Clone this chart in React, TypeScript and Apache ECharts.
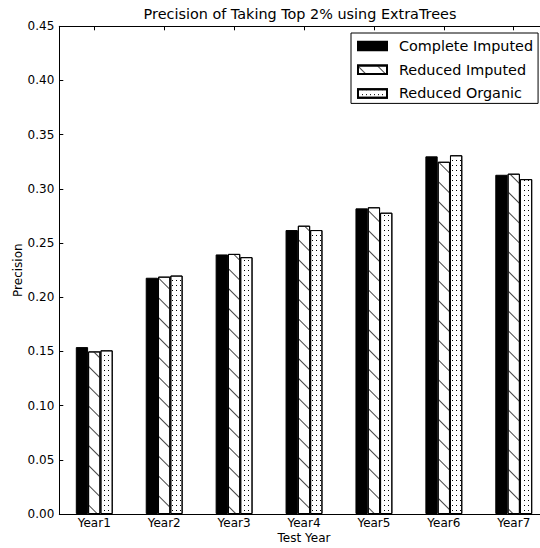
import React, { useEffect, useRef } from "react";
import * as echarts from "echarts";

const categories = ["Year1", "Year2", "Year3", "Year4", "Year5", "Year6", "Year7"];
const completeImputed = [0.154, 0.218, 0.2395, 0.262, 0.282, 0.330, 0.313];
const reducedImputed = [0.150, 0.219, 0.240, 0.266, 0.283, 0.325, 0.314];
const reducedOrganic = [0.151, 0.220, 0.237, 0.262, 0.278, 0.331, 0.309];
const seriesNames = ["Complete Imputed", "Reduced Imputed", "Reduced Organic"];

const FONT = "DejaVu Sans";

export default function App() {
  const ref = useRef<HTMLDivElement>(null);
  useEffect(() => {
    document.body.style.margin = "0";
    const chart = echarts.init(ref.current as HTMLDivElement, null, { renderer: "svg" });
    const barBase = {
      type: "bar" as const,
      barWidth: 12.3,
      barGap: "0%",
      xAxisIndex: 0,
      yAxisIndex: 0,
    };
    chart.setOption({
      animation: false,
      backgroundColor: "#fff",
      textStyle: { fontFamily: FONT, color: "#000" },
      title: {
        text: "Precision of Taking Top 2% using ExtraTrees",
        left: 300,
        textAlign: "center",
        top: 7,
        padding: 0,
        textStyle: { fontFamily: FONT, fontSize: 14.4, fontWeight: "normal", color: "#000" },
      },
      legend: {
        orient: "vertical",
        left: 351,
        top: 33,
        padding: [5, 5, 2, 6],
        itemGap: 7.7,
        itemWidth: 29,
        itemHeight: 8.5,
        icon: "rect",
        borderColor: "#000",
        borderWidth: 1,
        borderRadius: 0,
        backgroundColor: "#fff",
        data: seriesNames,
        textStyle: {
          fontFamily: FONT,
          fontSize: 14.4,
          lineHeight: 16,
          color: "#000",
          padding: [0, 0, 0, 7],
        },
      },
      grid: { left: 59.3, top: 26.3, right: -8.7, bottom: 34, outerBoundsMode: "none", containLabel: false },
      xAxis: [
        {
          type: "category",
          data: categories,
          position: "bottom",
          name: "Test Year",
          nameLocation: "middle",
          nameGap: 18,
          nameMoveOverlap: false,
          nameTextStyle: { fontFamily: FONT, fontSize: 12, color: "#000", verticalAlign: "top" },
          axisLine: { show: true, lineStyle: { color: "#000", width: 1 } },
          axisTick: { show: true, inside: true, length: 4, alignWithLabel: true, lineStyle: { color: "#000" } },
          axisLabel: { fontFamily: FONT, fontSize: 12, color: "#000", margin: 3 },
          splitLine: { show: false },
        },
        {
          type: "category",
          data: categories,
          position: "top",
          axisLine: { show: true, lineStyle: { color: "#000", width: 1 } },
          axisTick: { show: true, inside: true, length: 4, alignWithLabel: true, lineStyle: { color: "#000" } },
          axisLabel: { show: false },
          splitLine: { show: false },
        },
      ],
      yAxis: [
        {
          type: "value",
          min: 0,
          max: 0.45,
          interval: 0.05,
          name: "Precision",
          nameLocation: "middle",
          nameGap: 35,
          nameMoveOverlap: false,
          nameTextStyle: { fontFamily: FONT, fontSize: 12, color: "#000" },
          axisLine: { show: true, lineStyle: { color: "#000", width: 1 } },
          axisTick: { show: true, inside: true, length: 4, lineStyle: { color: "#000" } },
          axisLabel: {
            fontFamily: FONT,
            fontSize: 12,
            color: "#000",
            margin: 5,
            formatter: (v: number) => v.toFixed(2),
          },
          splitLine: { show: false },
        },
      ],
      series: [
        {
          ...barBase,
          name: seriesNames[0],
          data: completeImputed,
          itemStyle: { color: "#000", borderColor: "#000", borderWidth: 1 },
        },
        {
          ...barBase,
          name: seriesNames[1],
          data: reducedImputed,
          itemStyle: {
            color: "#fff",
            borderColor: "#000",
            borderWidth: 1,
            decal: {
              symbol: "rect",
              symbolSize: 1,
              dashArrayX: [1, 0],
              dashArrayY: [1, 13],
              rotation: Math.PI / 4,
              color: "#444",
            },
          },
        },
        {
          ...barBase,
          name: seriesNames[2],
          data: reducedOrganic,
          itemStyle: {
            color: "#fff",
            borderColor: "#000",
            borderWidth: 1,
            decal: {
              symbol: "rect",
              symbolSize: 1,
              dashArrayX: [1, 3],
              dashArrayY: [1, 4],
              rotation: 0,
              color: "#000",
            },
          },
        },
      ],
    });
    return () => chart.dispose();
  }, []);
  return <div ref={ref} style={{ width: 540, height: 548 }} />;
}
